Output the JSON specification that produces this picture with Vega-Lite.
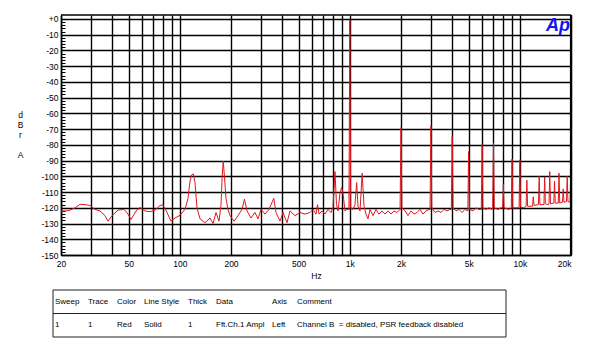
{
  "$schema": "https://vega.github.io/schema/vega-lite/v6.json",
  "background": "white",
  "padding": {"left": 16, "top": 13, "right": 5, "bottom": 5},
  "config": {"font": "Liberation Sans"},
  "spacing": 9,
  "datasets": {
    "fft": [
      {"hz": 20, "dbr": -122}, {"hz": 21.4, "dbr": -122}, {"hz": 22.6, "dbr": -121.5}, {"hz": 24.2, "dbr": -120},
      {"hz": 25.9, "dbr": -117.8}, {"hz": 27.7, "dbr": -118}, {"hz": 29.6, "dbr": -118.5}, {"hz": 31.7, "dbr": -121},
      {"hz": 33.9, "dbr": -122}, {"hz": 36.3, "dbr": -125}, {"hz": 37.8, "dbr": -128.5}, {"hz": 39.9, "dbr": -125},
      {"hz": 43.3, "dbr": -121.5}, {"hz": 47.0, "dbr": -121}, {"hz": 49.6, "dbr": -124}, {"hz": 51.6, "dbr": -127.5},
      {"hz": 55.3, "dbr": -122}, {"hz": 58.3, "dbr": -119.8}, {"hz": 62.4, "dbr": -122}, {"hz": 66.8, "dbr": -122.5},
      {"hz": 71.5, "dbr": -121.5}, {"hz": 76.5, "dbr": -118.5}, {"hz": 79.6, "dbr": -118.2}, {"hz": 84.1, "dbr": -123},
      {"hz": 88.7, "dbr": -128.5}, {"hz": 93.7, "dbr": -126.5}, {"hz": 100.2, "dbr": -124.8}, {"hz": 107.3, "dbr": -121},
      {"hz": 111.7, "dbr": -114}, {"hz": 114.8, "dbr": -103}, {"hz": 117.5, "dbr": -99}, {"hz": 120, "dbr": -98.5},
      {"hz": 122.8, "dbr": -104}, {"hz": 126.2, "dbr": -120}, {"hz": 131.4, "dbr": -127}, {"hz": 140.7, "dbr": -129.5},
      {"hz": 150.5, "dbr": -126.5}, {"hz": 156.8, "dbr": -130}, {"hz": 163.3, "dbr": -123}, {"hz": 170.0, "dbr": -128.5},
      {"hz": 174.7, "dbr": -118}, {"hz": 177.5, "dbr": -100}, {"hz": 180, "dbr": -90.3}, {"hz": 183, "dbr": -100},
      {"hz": 186.9, "dbr": -114}, {"hz": 192.0, "dbr": -121}, {"hz": 197.3, "dbr": -125}, {"hz": 208.3, "dbr": -128.5},
      {"hz": 219.9, "dbr": -125}, {"hz": 232.1, "dbr": -121}, {"hz": 240, "dbr": -114.5}, {"hz": 248.4, "dbr": -122},
      {"hz": 262.2, "dbr": -126.5}, {"hz": 276.8, "dbr": -123}, {"hz": 288.3, "dbr": -127}, {"hz": 300.3, "dbr": -121},
      {"hz": 317.0, "dbr": -124}, {"hz": 334.6, "dbr": -121}, {"hz": 357, "dbr": -114}, {"hz": 368, "dbr": -123},
      {"hz": 388.5, "dbr": -128.5}, {"hz": 404.6, "dbr": -123}, {"hz": 427.1, "dbr": -129.5}, {"hz": 444.8, "dbr": -122},
      {"hz": 475.9, "dbr": -125}, {"hz": 509.3, "dbr": -123}, {"hz": 544.9, "dbr": -124}, {"hz": 583.1, "dbr": -123},
      {"hz": 607.3, "dbr": -121}, {"hz": 632.5, "dbr": -124}, {"hz": 645.4, "dbr": -118}, {"hz": 658.7, "dbr": -124},
      {"hz": 686, "dbr": -122}, {"hz": 714.5, "dbr": -124}, {"hz": 744.1, "dbr": -121}, {"hz": 775, "dbr": -123},
      {"hz": 796, "dbr": -120}, {"hz": 818, "dbr": -97}, {"hz": 835, "dbr": -118}, {"hz": 852, "dbr": -122},
      {"hz": 875, "dbr": -111}, {"hz": 895, "dbr": -107}, {"hz": 912, "dbr": -111}, {"hz": 937, "dbr": -122},
      {"hz": 962, "dbr": -121}, {"hz": 988, "dbr": -121}, {"hz": 1000, "dbr": -1}, {"hz": 1012, "dbr": -120},
      {"hz": 1044, "dbr": -121}, {"hz": 1073, "dbr": -118}, {"hz": 1097, "dbr": -104}, {"hz": 1117, "dbr": -119},
      {"hz": 1148, "dbr": -122}, {"hz": 1182, "dbr": -98}, {"hz": 1212, "dbr": -119}, {"hz": 1245, "dbr": -124},
      {"hz": 1279, "dbr": -127}, {"hz": 1314, "dbr": -121}, {"hz": 1369, "dbr": -125}, {"hz": 1425, "dbr": -121},
      {"hz": 1484, "dbr": -124}, {"hz": 1546, "dbr": -122}, {"hz": 1610, "dbr": -124}, {"hz": 1677, "dbr": -122},
      {"hz": 1747, "dbr": -124}, {"hz": 1819, "dbr": -122}, {"hz": 1895, "dbr": -123}, {"hz": 1975, "dbr": -121},
      {"hz": 2000, "dbr": -69}, {"hz": 2025, "dbr": -120}, {"hz": 2113, "dbr": -122}, {"hz": 2199, "dbr": -125},
      {"hz": 2290, "dbr": -122}, {"hz": 2385, "dbr": -124}, {"hz": 2484, "dbr": -123}, {"hz": 2587, "dbr": -121},
      {"hz": 2694, "dbr": -124}, {"hz": 2806, "dbr": -122}, {"hz": 2922, "dbr": -121}, {"hz": 2965, "dbr": -121},
      {"hz": 3000, "dbr": -68}, {"hz": 3035, "dbr": -120}, {"hz": 3170, "dbr": -123}, {"hz": 3302, "dbr": -122},
      {"hz": 3439, "dbr": -123}, {"hz": 3581, "dbr": -121}, {"hz": 3729, "dbr": -122}, {"hz": 3884, "dbr": -121},
      {"hz": 3955, "dbr": -121}, {"hz": 4000, "dbr": -74.8}, {"hz": 4045, "dbr": -120}, {"hz": 4213, "dbr": -122},
      {"hz": 4388, "dbr": -121}, {"hz": 4570, "dbr": -123}, {"hz": 4759, "dbr": -121}, {"hz": 4945, "dbr": -122},
      {"hz": 5000, "dbr": -84.3}, {"hz": 5055, "dbr": -121}, {"hz": 5304, "dbr": -122}, {"hz": 5524, "dbr": -120},
      {"hz": 5753, "dbr": -121}, {"hz": 5935, "dbr": -121}, {"hz": 6000, "dbr": -80}, {"hz": 6065, "dbr": -120},
      {"hz": 6325, "dbr": -121}, {"hz": 6587, "dbr": -120}, {"hz": 6860, "dbr": -121}, {"hz": 6925, "dbr": -120},
      {"hz": 7000, "dbr": -79}, {"hz": 7075, "dbr": -120}, {"hz": 7441, "dbr": -121}, {"hz": 7750, "dbr": -120},
      {"hz": 7920, "dbr": -120}, {"hz": 8000, "dbr": -105}, {"hz": 8080, "dbr": -120}, {"hz": 8636, "dbr": -121},
      {"hz": 8910, "dbr": -120}, {"hz": 9000, "dbr": -89}, {"hz": 9090, "dbr": -120}, {"hz": 9497, "dbr": -120},
      {"hz": 9900, "dbr": -120}, {"hz": 10000, "dbr": -89.6}, {"hz": 10100, "dbr": -119.5}, {"hz": 10580, "dbr": -120},
      {"hz": 10890, "dbr": -119}, {"hz": 11000, "dbr": -102.4}, {"hz": 11110, "dbr": -119}, {"hz": 11638, "dbr": -119},
      {"hz": 11880, "dbr": -119}, {"hz": 12000, "dbr": -113}, {"hz": 12120, "dbr": -118.5}, {"hz": 12790, "dbr": -118},
      {"hz": 12870, "dbr": -118}, {"hz": 13000, "dbr": -100}, {"hz": 13130, "dbr": -118}, {"hz": 13860, "dbr": -118},
      {"hz": 14000, "dbr": -100.4}, {"hz": 14140, "dbr": -117.5}, {"hz": 14645, "dbr": -118}, {"hz": 14850, "dbr": -117.5},
      {"hz": 15000, "dbr": -97}, {"hz": 15150, "dbr": -117.5}, {"hz": 15840, "dbr": -117}, {"hz": 16000, "dbr": -103},
      {"hz": 16160, "dbr": -117}, {"hz": 16550, "dbr": -117}, {"hz": 16830, "dbr": -117}, {"hz": 17000, "dbr": -98},
      {"hz": 17170, "dbr": -117}, {"hz": 17820, "dbr": -116.5}, {"hz": 18000, "dbr": -108}, {"hz": 18180, "dbr": -116.5},
      {"hz": 18810, "dbr": -116}, {"hz": 19000, "dbr": -100}, {"hz": 19190, "dbr": -116}, {"hz": 19750, "dbr": -116.5},
      {"hz": 19900, "dbr": -104}, {"hz": 20000, "dbr": -116}
    ],
    "table": [
      {"row": "head", "col": "Sweep", "text": "Sweep"},
      {"row": "head", "col": "Trace", "text": "Trace"},
      {"row": "head", "col": "Color", "text": "Color"},
      {"row": "head", "col": "Line Style", "text": "Line Style"},
      {"row": "head", "col": "Thick", "text": "Thick"},
      {"row": "head", "col": "Data", "text": "Data"},
      {"row": "head", "col": "Axis", "text": "Axis"},
      {"row": "head", "col": "Comment", "text": "Comment"},
      {"row": "trace", "col": "Sweep", "text": "1"},
      {"row": "trace", "col": "Trace", "text": "1"},
      {"row": "trace", "col": "Color", "text": "Red"},
      {"row": "trace", "col": "Line Style", "text": "Solid"},
      {"row": "trace", "col": "Thick", "text": "1"},
      {"row": "trace", "col": "Data", "text": "Fft.Ch.1 Ampl"},
      {"row": "trace", "col": "Axis", "text": "Left"},
      {"row": "trace", "col": "Comment", "text": "Channel B \u00a0= disabled, PSR feedback disabled"}
    ],
    "one": [{}]
  },
  "vconcat": [
    {
      "width": 518,
      "height": 240,
      "view": {"stroke": null},
      "layer": [
        {
          "data": {"name": "fft"},
          "mark": {"type": "line", "color": "#e3161c", "strokeWidth": 1, "clip": true},
          "encoding": {
            "x": {
              "field": "hz", "type": "quantitative",
              "scale": {"type": "log", "domain": [20, 20000], "range": [8, 518], "nice": false},
              "axis": {
                "values": [20, 30, 40, 50, 60, 70, 80, 90, 100, 200, 300, 400, 500, 600, 700, 800, 900, 1000, 2000, 3000, 4000, 5000, 6000, 7000, 8000, 9000, 10000, 20000],
                "tickCount": 500,
                "labelExpr": "indexof([20,50,100,200,500,1000,2000,5000,10000,20000], datum.value) >= 0 ? (datum.value >= 1000 ? (datum.value/1000) + 'k' : '' + datum.value) : ''",
                "labelAlign": {"condition": {"test": "datum.value >= 20000", "value": "right"}, "value": "center"},
                "labelOverlap": false, "labelBound": false, "labelFlush": false,
                "labelFontSize": 8.5, "labelColor": "#000", "labelPadding": 4,
                "ticks": false,
                "grid": true, "gridColor": "#000", "gridWidth": 1.4, "gridOpacity": 1,
                "domain": true, "domainColor": "#000", "domainWidth": 1.5,
                "title": "Hz", "titleFontSize": 8.5, "titleFontWeight": "normal", "titlePadding": 4, "titleColor": "#000"
              }
            },
            "y": {
              "field": "dbr", "type": "quantitative",
              "scale": {"domain": [-150, 2.5], "nice": false, "zero": false},
              "axis": {
                "values": [-150,-148,-146,-144,-142,-140,-138,-136,-134,-132,-130,-128,-126,-124,-122,-120,-118,-116,-114,-112,-110,-108,-106,-104,-102,-100,-98,-96,-94,-92,-90,-88,-86,-84,-82,-80,-78,-76,-74,-72,-70,-68,-66,-64,-62,-60,-58,-56,-54,-52,-50,-48,-46,-44,-42,-40,-38,-36,-34,-32,-30,-28,-26,-24,-22,-20,-18,-16,-14,-12,-10,-8,-6,-4,-2,0],
                "tickCount": 500,
                "labelExpr": "datum.value % 10 == 0 ? (datum.value == 0 ? '+0' : '-' + abs(datum.value)) : ''",
                "labelOverlap": false, "labelBound": false, "labelFlush": false,
                "labelFontSize": 8.5, "labelPadding": 7, "labelColor": "#000",
                "ticks": true, "tickSize": -4, "tickColor": "#000", "tickWidth": 1,
                "grid": true, "gridColor": "#000", "gridWidth": 1.4,
                "gridOpacity": {"condition": {"test": "datum.value % 10 != 0", "value": 0}, "value": 1},
                "domain": true, "domainColor": "#000", "domainWidth": 1.5,
                "offset": -8,
                "title": ["d", "B", "r", "\u2800", "A"],
                "titleAngle": 0, "titleAlign": "center", "titleBaseline": "middle",
                "titleX": -41, "titleY": 99,
                "titleFontSize": 8.5, "titleFontWeight": "normal", "titleLineHeight": 10, "titleColor": "#000"
              }
            }
          }
        },
        {
          "data": {"name": "one"},
          "mark": {"type": "rule", "color": "#000", "strokeWidth": 1.5},
          "encoding": {
            "y": {"datum": 2.5, "type": "quantitative"},
            "x": {"datum": 20, "type": "quantitative"},
            "x2": {"datum": 20000}
          }
        },
        {
          "data": {"name": "one"},
          "mark": {"type": "rule", "color": "#000", "strokeWidth": 2.2},
          "encoding": {"x": {"datum": 20000, "type": "quantitative"}}
        },
        {
          "data": {"name": "one"},
          "mark": {"type": "text", "text": "Ap", "fontSize": 18, "fontWeight": "bold", "fontStyle": "italic", "color": "#1414f0", "align": "right", "baseline": "alphabetic"},
          "encoding": {
            "x": {"datum": 19700, "type": "quantitative"},
            "y": {"datum": -7.7, "type": "quantitative"}
          }
        }
      ]
    },
    {
      "bounds": "flush",
      "spacing": 0,
      "hconcat": [
        {"width": 33, "height": 47, "view": {"stroke": null}, "layer": [
          {"data": {"name": "table"}, "transform": [{"filter": {"field": "col", "equal": "Sweep"}}],
           "mark": {"type": "text", "align": "left", "baseline": "middle", "fontSize": 8, "dx": 2, "color": "#000"},
           "encoding": {"x": {"field": "col", "type": "nominal", "bandPosition": 0, "scale": {"type": "band", "paddingInner": 0, "paddingOuter": 0}, "axis": null},
                        "y": {"field": "row", "type": "nominal", "scale": {"type": "band", "domain": ["head", "trace"], "paddingInner": 0, "paddingOuter": 0}, "axis": null},
                        "text": {"field": "text"}}},
          {"data": {"name": "one"}, "mark": {"type": "rule", "color": "#222", "strokeWidth": 1}, "encoding": {"y": {"datum": "head", "type": "nominal", "bandPosition": 0}}},
          {"data": {"name": "one"}, "mark": {"type": "rule", "color": "#222", "strokeWidth": 1}, "encoding": {"y": {"datum": "trace", "type": "nominal", "bandPosition": 0}}},
          {"data": {"name": "one"}, "mark": {"type": "rule", "color": "#222", "strokeWidth": 1}, "encoding": {"y": {"datum": "trace", "type": "nominal", "bandPosition": 1}}},
          {"data": {"name": "one"}, "mark": {"type": "rule", "color": "#222", "strokeWidth": 1}, "encoding": {"x": {"datum": "Sweep", "type": "nominal", "bandPosition": 0}}}
        ]},
        {"width": 29, "height": 47, "view": {"stroke": null}, "layer": [
          {"data": {"name": "table"}, "transform": [{"filter": {"field": "col", "equal": "Trace"}}],
           "mark": {"type": "text", "align": "left", "baseline": "middle", "fontSize": 8, "dx": 2, "color": "#000"},
           "encoding": {"x": {"field": "col", "type": "nominal", "bandPosition": 0, "scale": {"type": "band", "paddingInner": 0, "paddingOuter": 0}, "axis": null},
                        "y": {"field": "row", "type": "nominal", "scale": {"type": "band", "domain": ["head", "trace"], "paddingInner": 0, "paddingOuter": 0}, "axis": null},
                        "text": {"field": "text"}}},
          {"data": {"name": "one"}, "mark": {"type": "rule", "color": "#222", "strokeWidth": 1}, "encoding": {"y": {"datum": "head", "type": "nominal", "bandPosition": 0}}},
          {"data": {"name": "one"}, "mark": {"type": "rule", "color": "#222", "strokeWidth": 1}, "encoding": {"y": {"datum": "trace", "type": "nominal", "bandPosition": 0}}},
          {"data": {"name": "one"}, "mark": {"type": "rule", "color": "#222", "strokeWidth": 1}, "encoding": {"y": {"datum": "trace", "type": "nominal", "bandPosition": 1}}}
        ]},
        {"width": 27, "height": 47, "view": {"stroke": null}, "layer": [
          {"data": {"name": "table"}, "transform": [{"filter": {"field": "col", "equal": "Color"}}],
           "mark": {"type": "text", "align": "left", "baseline": "middle", "fontSize": 8, "dx": 2, "color": "#000"},
           "encoding": {"x": {"field": "col", "type": "nominal", "bandPosition": 0, "scale": {"type": "band", "paddingInner": 0, "paddingOuter": 0}, "axis": null},
                        "y": {"field": "row", "type": "nominal", "scale": {"type": "band", "domain": ["head", "trace"], "paddingInner": 0, "paddingOuter": 0}, "axis": null},
                        "text": {"field": "text"}}},
          {"data": {"name": "one"}, "mark": {"type": "rule", "color": "#222", "strokeWidth": 1}, "encoding": {"y": {"datum": "head", "type": "nominal", "bandPosition": 0}}},
          {"data": {"name": "one"}, "mark": {"type": "rule", "color": "#222", "strokeWidth": 1}, "encoding": {"y": {"datum": "trace", "type": "nominal", "bandPosition": 0}}},
          {"data": {"name": "one"}, "mark": {"type": "rule", "color": "#222", "strokeWidth": 1}, "encoding": {"y": {"datum": "trace", "type": "nominal", "bandPosition": 1}}}
        ]},
        {"width": 44, "height": 47, "view": {"stroke": null}, "layer": [
          {"data": {"name": "table"}, "transform": [{"filter": {"field": "col", "equal": "Line Style"}}],
           "mark": {"type": "text", "align": "left", "baseline": "middle", "fontSize": 8, "dx": 2, "color": "#000"},
           "encoding": {"x": {"field": "col", "type": "nominal", "bandPosition": 0, "scale": {"type": "band", "paddingInner": 0, "paddingOuter": 0}, "axis": null},
                        "y": {"field": "row", "type": "nominal", "scale": {"type": "band", "domain": ["head", "trace"], "paddingInner": 0, "paddingOuter": 0}, "axis": null},
                        "text": {"field": "text"}}},
          {"data": {"name": "one"}, "mark": {"type": "rule", "color": "#222", "strokeWidth": 1}, "encoding": {"y": {"datum": "head", "type": "nominal", "bandPosition": 0}}},
          {"data": {"name": "one"}, "mark": {"type": "rule", "color": "#222", "strokeWidth": 1}, "encoding": {"y": {"datum": "trace", "type": "nominal", "bandPosition": 0}}},
          {"data": {"name": "one"}, "mark": {"type": "rule", "color": "#222", "strokeWidth": 1}, "encoding": {"y": {"datum": "trace", "type": "nominal", "bandPosition": 1}}}
        ]},
        {"width": 28, "height": 47, "view": {"stroke": null}, "layer": [
          {"data": {"name": "table"}, "transform": [{"filter": {"field": "col", "equal": "Thick"}}],
           "mark": {"type": "text", "align": "left", "baseline": "middle", "fontSize": 8, "dx": 2, "color": "#000"},
           "encoding": {"x": {"field": "col", "type": "nominal", "bandPosition": 0, "scale": {"type": "band", "paddingInner": 0, "paddingOuter": 0}, "axis": null},
                        "y": {"field": "row", "type": "nominal", "scale": {"type": "band", "domain": ["head", "trace"], "paddingInner": 0, "paddingOuter": 0}, "axis": null},
                        "text": {"field": "text"}}},
          {"data": {"name": "one"}, "mark": {"type": "rule", "color": "#222", "strokeWidth": 1}, "encoding": {"y": {"datum": "head", "type": "nominal", "bandPosition": 0}}},
          {"data": {"name": "one"}, "mark": {"type": "rule", "color": "#222", "strokeWidth": 1}, "encoding": {"y": {"datum": "trace", "type": "nominal", "bandPosition": 0}}},
          {"data": {"name": "one"}, "mark": {"type": "rule", "color": "#222", "strokeWidth": 1}, "encoding": {"y": {"datum": "trace", "type": "nominal", "bandPosition": 1}}}
        ]},
        {"width": 56, "height": 47, "view": {"stroke": null}, "layer": [
          {"data": {"name": "table"}, "transform": [{"filter": {"field": "col", "equal": "Data"}}],
           "mark": {"type": "text", "align": "left", "baseline": "middle", "fontSize": 8, "dx": 2, "color": "#000"},
           "encoding": {"x": {"field": "col", "type": "nominal", "bandPosition": 0, "scale": {"type": "band", "paddingInner": 0, "paddingOuter": 0}, "axis": null},
                        "y": {"field": "row", "type": "nominal", "scale": {"type": "band", "domain": ["head", "trace"], "paddingInner": 0, "paddingOuter": 0}, "axis": null},
                        "text": {"field": "text"}}},
          {"data": {"name": "one"}, "mark": {"type": "rule", "color": "#222", "strokeWidth": 1}, "encoding": {"y": {"datum": "head", "type": "nominal", "bandPosition": 0}}},
          {"data": {"name": "one"}, "mark": {"type": "rule", "color": "#222", "strokeWidth": 1}, "encoding": {"y": {"datum": "trace", "type": "nominal", "bandPosition": 0}}},
          {"data": {"name": "one"}, "mark": {"type": "rule", "color": "#222", "strokeWidth": 1}, "encoding": {"y": {"datum": "trace", "type": "nominal", "bandPosition": 1}}}
        ]},
        {"width": 25, "height": 47, "view": {"stroke": null}, "layer": [
          {"data": {"name": "table"}, "transform": [{"filter": {"field": "col", "equal": "Axis"}}],
           "mark": {"type": "text", "align": "left", "baseline": "middle", "fontSize": 8, "dx": 2, "color": "#000"},
           "encoding": {"x": {"field": "col", "type": "nominal", "bandPosition": 0, "scale": {"type": "band", "paddingInner": 0, "paddingOuter": 0}, "axis": null},
                        "y": {"field": "row", "type": "nominal", "scale": {"type": "band", "domain": ["head", "trace"], "paddingInner": 0, "paddingOuter": 0}, "axis": null},
                        "text": {"field": "text"}}},
          {"data": {"name": "one"}, "mark": {"type": "rule", "color": "#222", "strokeWidth": 1}, "encoding": {"y": {"datum": "head", "type": "nominal", "bandPosition": 0}}},
          {"data": {"name": "one"}, "mark": {"type": "rule", "color": "#222", "strokeWidth": 1}, "encoding": {"y": {"datum": "trace", "type": "nominal", "bandPosition": 0}}},
          {"data": {"name": "one"}, "mark": {"type": "rule", "color": "#222", "strokeWidth": 1}, "encoding": {"y": {"datum": "trace", "type": "nominal", "bandPosition": 1}}}
        ]},
        {"width": 211, "height": 47, "view": {"stroke": null}, "layer": [
          {"data": {"name": "table"}, "transform": [{"filter": {"field": "col", "equal": "Comment"}}],
           "mark": {"type": "text", "align": "left", "baseline": "middle", "fontSize": 8, "dx": 2, "color": "#000"},
           "encoding": {"x": {"field": "col", "type": "nominal", "bandPosition": 0, "scale": {"type": "band", "paddingInner": 0, "paddingOuter": 0}, "axis": null},
                        "y": {"field": "row", "type": "nominal", "scale": {"type": "band", "domain": ["head", "trace"], "paddingInner": 0, "paddingOuter": 0}, "axis": null},
                        "text": {"field": "text"}}},
          {"data": {"name": "one"}, "mark": {"type": "rule", "color": "#222", "strokeWidth": 1}, "encoding": {"y": {"datum": "head", "type": "nominal", "bandPosition": 0}}},
          {"data": {"name": "one"}, "mark": {"type": "rule", "color": "#222", "strokeWidth": 1}, "encoding": {"y": {"datum": "trace", "type": "nominal", "bandPosition": 0}}},
          {"data": {"name": "one"}, "mark": {"type": "rule", "color": "#222", "strokeWidth": 1}, "encoding": {"y": {"datum": "trace", "type": "nominal", "bandPosition": 1}}},
          {"data": {"name": "one"}, "mark": {"type": "rule", "color": "#222", "strokeWidth": 1}, "encoding": {"x": {"datum": "Comment", "type": "nominal", "bandPosition": 1}}}
        ]}
      ]
    }
  ]
}
